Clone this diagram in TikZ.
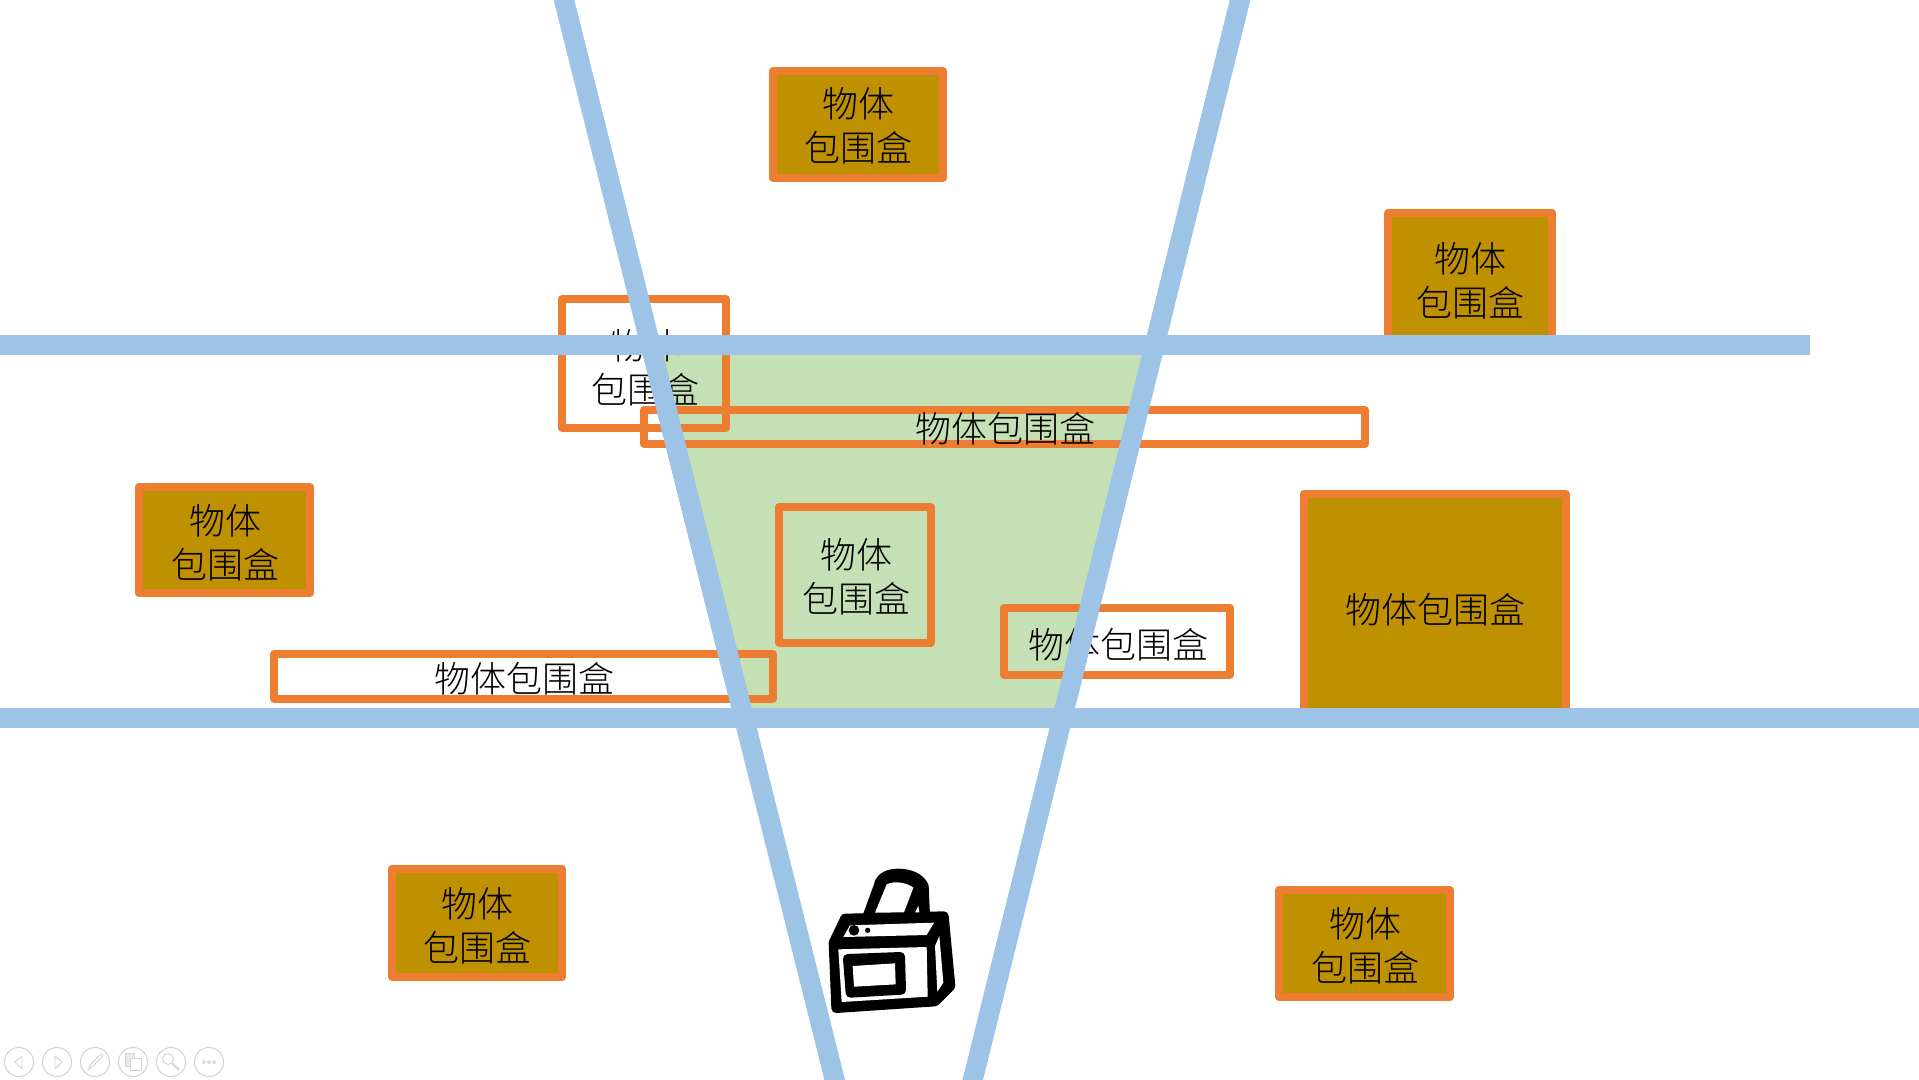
\documentclass[tikz,border=0pt]{standalone}
\usepackage{fontspec}
\newfontfamily\cjk{Noto Sans CJK SC Light}
\definecolor{bluel}{HTML}{9DC3E6}
\definecolor{orangeb}{HTML}{ED7D31}
\definecolor{goldb}{HTML}{BF9000}
\definecolor{greenr}{HTML}{C5E0B4}
\definecolor{ctl}{HTML}{D4D4D4}
\tikzset{
  goldbox/.style={draw=orangeb,fill=goldb,line width=6pt,line join=round},
  openbox/.style={draw=orangeb,line width=6pt,line join=round},
  boxtext/.style={inner sep=0pt,align=center,text=black,font=\cjk\fontsize{27}{32.8}\selectfont},
  ray/.style={draw=bluel,line width=15pt},
  ctlring/.style={draw=ctl,line width=0.8pt},
  ctlicon/.style={draw=ctl,line width=0.7pt,line join=round},
  bagline/.style={draw=black,fill=black,line width=7pt,line join=round},
  baghole/.style={fill=white}
}
\begin{document}
\begin{tikzpicture}[x=0.75pt,y=-0.75pt]
\useasboundingbox (0,0) rectangle (1919,1079);
\clip (0,0) rectangle (1919,1079);
% region
\fill[greenr] (650,345) -- (1155,345) -- (1062,718) -- (744,718) -- cycle;
% gold boxes
\draw[goldbox] (773,71) rectangle (943,178);
\draw[goldbox] (1388,213) rectangle (1552,345);
\draw[goldbox] (139,487) rectangle (310,593);
\draw[goldbox] (1304,494) rectangle (1566,718);
\draw[goldbox] (392,869) rectangle (562,977);
\draw[goldbox] (1279,890) rectangle (1450,997);
% open boxes
\draw[openbox] (562,299) rectangle (726,428);
\draw[openbox] (644,410) rectangle (1365,443.5);
\draw[openbox] (779,507) rectangle (931,642.5);
\draw[openbox] (274,654) rectangle (773,698.5);
\draw[openbox] (1004,608) rectangle (1230,675);
% labels
\node[boxtext] (t1) at (858,125.5) {物体\\包围盒};
\node[boxtext] (t2) at (1470,280.5) {物体\\包围盒};
\node[boxtext] (t3) at (225,542.5) {物体\\包围盒};
\node[boxtext] (t4) at (1435,610) {物体包围盒};
\node[boxtext] (t5) at (477,925.5) {物体\\包围盒};
\node[boxtext] (t6) at (1365,945.5) {物体\\包围盒};
\node[boxtext] (t7) at (645,367.5) {物体\\包围盒};
\node[boxtext] (t8) at (1005,428.5) {物体包围盒};
\node[boxtext] (t9) at (856,576.5) {物体\\包围盒};
\node[boxtext] (t10) at (524,678.5) {物体包围盒};
\node[boxtext] (t11) at (1118,644.5) {物体包围盒};
% rays
\coordinate (hA) at (0,345); \coordinate (hB) at (1810,345);
\coordinate (hC) at (0,718); \coordinate (hD) at (1919,718);
\coordinate (lA) at (561.5,-10); \coordinate (lB) at (837,1089);
\coordinate (rA) at (1242.5,-10); \coordinate (rB) at (970.5,1089);
\draw[ray] (hA) -- (hB);
\draw[ray] (hC) -- (hD);
\draw[ray] (lA) -- (lB);
\draw[ray] (rA) -- (rB);
% bag icon
\begin{scope}[shift={(780,841)},x=0.25pt,y=-0.25pt]
\draw[bagline] (262,225) -- (295,135) .. controls (300,105) and (330,97) .. (355,97) .. controls (390,97) and (420,110) .. (432,135) -- (436,225) -- cycle;
\draw[bagline] (160,305) -- (195,232) -- (492,225) -- (512,435) -- (465,482) -- (168,502) -- cycle;
\fill[baghole] (285,215) -- (320,130) .. controls (345,118) and (380,125) .. (400,140) -- (372,214) -- cycle;
\fill[baghole] (405,214) -- (415,195) -- (418,214) -- cycle;
\fill[baghole] (190,288) -- (210,253) -- (462,245) -- (440,282) -- cycle;
\fill[baghole] (465,315) -- (478,285) -- (490,425) -- (472,452) -- cycle;
\fill[baghole] (175,325) -- (440,318) -- (443,467) -- (185,483) -- cycle;
\draw[bagline] (203,353) -- (361,347) -- (364,447) -- (211,456) -- cycle;
\fill[baghole] (218,375) -- (345,367) -- (347,430) -- (222,437) -- cycle;
\fill[black] (222,268) circle[radius=16];
\fill[black] (263,268) circle[radius=8];
\end{scope}
% slide-show controls
\draw[ctlring] (19,1062) circle[radius=14.5];
\draw[ctlring] (57,1062) circle[radius=14.5];
\draw[ctlring] (95,1062) circle[radius=14.5];
\draw[ctlring] (133,1062) circle[radius=14.5];
\draw[ctlring] (171,1062) circle[radius=14.5];
\draw[ctlring] (209,1062) circle[radius=14.5];
\draw[ctlicon] (22,1056) -- (15,1062) -- (22,1069) -- cycle;
\draw[ctlicon] (55,1056) -- (62,1062) -- (55,1069) -- cycle;
\draw[ctlicon] (88,1070) -- (91,1064) -- (101,1054) -- (103,1056) -- (93,1066) -- cycle;
\draw[ctlicon,fill=ctl!50] (125,1053) rectangle (134,1066);
\draw[ctlicon,fill=white] (130,1058) rectangle (141,1070);
\draw[ctlicon] (168,1059) circle[radius=5.5];
\draw[ctlicon,line width=1.4pt] (172,1063) -- (179,1070);
\draw[ctlicon] (204,1062) circle[radius=1.6];
\draw[ctlicon] (209,1062) circle[radius=1.6];
\draw[ctlicon] (214,1062) circle[radius=1.6];
\end{tikzpicture}
\end{document}
